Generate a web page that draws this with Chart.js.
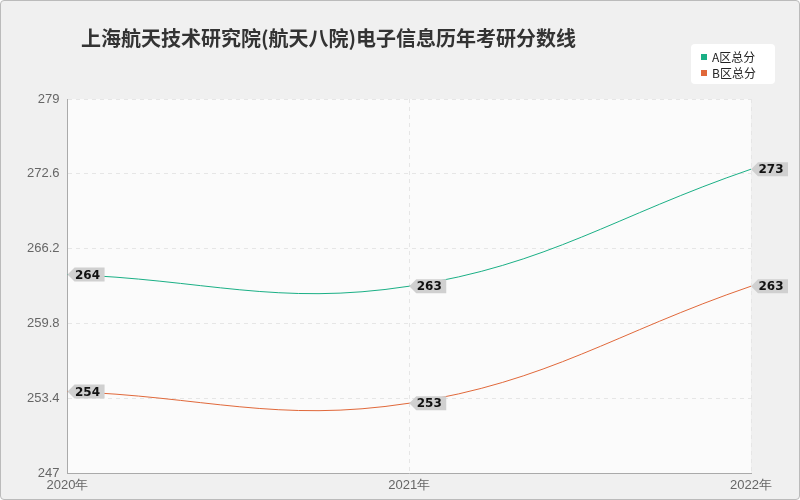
<!DOCTYPE html>
<html><head><meta charset="utf-8">
<script src="https://cdn.jsdelivr.net/npm/chart.js@4/dist/chart.umd.min.js"></script>
<style>
body{margin:0;background:#fff;}
#wrap{position:absolute;left:0;top:0;width:798px;height:498px;border:1px solid #bbb;background:#f0f0f0;border-radius:4px;}
</style></head><body>
<div id="wrap"><canvas id="c" width="798" height="498"></canvas></div>
<script>
const years = ["2020年", "2021年", "2022年"];
const seriesA = [264, 263, 273];
const seriesB = [254, 253, 263];
const yTicks = [247, 253.4, 259.8, 266.2, 272.6, 279];
const titleText = "上海航天技术研究院(航天八院)电子信息历年考研分数线";

const tagPlugin = {
  id: "tags",
  afterDatasetsDraw(chart) {
    const ctx = chart.ctx;
    chart.data.datasets.forEach((ds, i) => {
      chart.getDatasetMeta(i).data.forEach((pt, j) => {
        const x = pt.x, y = pt.y, w = 30, h = 14;
        ctx.save();
        ctx.fillStyle = "#d0d0d0";
        ctx.beginPath();
        ctx.moveTo(x, y);
        ctx.lineTo(x + 7, y - h / 2);
        ctx.lineTo(x + 7 + w, y - h / 2);
        ctx.lineTo(x + 7 + w, y + h / 2);
        ctx.lineTo(x + 7, y + h / 2);
        ctx.closePath();
        ctx.fill();
        ctx.fillStyle = "#111";
        ctx.font = "bold 12px 'DejaVu Sans'";
        ctx.textAlign = "center";
        ctx.textBaseline = "middle";
        ctx.fillText(String(ds.data[j]), x + 7 + w / 2 - 2, y + 1);
        ctx.restore();
      });
    });
  }
};
const decoPlugin = {
  id: "deco",
  beforeDraw(chart) {
    const a = chart.chartArea, ctx = chart.ctx;
    ctx.save();
    ctx.fillStyle = "#fbfbfb";
    ctx.fillRect(a.left, a.top, a.right - a.left, a.bottom - a.top);
    ctx.fillStyle = "#333";
    ctx.font = "bold 20px 'Noto Sans CJK SC'";
    ctx.textBaseline = "middle";
    ctx.fillText(titleText, 80, 37);
    // legend
    ctx.fillStyle = "#fff";
    ctx.beginPath();
    ctx.roundRect(690, 43, 84, 40, 4);
    ctx.fill();
    ctx.font = "12px 'Noto Sans CJK SC'";
    chart.data.datasets.forEach((ds, i) => {
      const y = 56 + i * 16;
      ctx.fillStyle = ds.borderColor;
      ctx.fillRect(700, y - 3, 6, 6);
      ctx.fillStyle = "#222";
      ctx.fillText(ds.label, 711, y);
    });
    ctx.restore();
  }
};

new Chart(document.getElementById("c"), {
  type: "line",
  data: {
    labels: years,
    datasets: [
      { label: "A区总分", data: seriesA, borderColor: "#1aaf85", backgroundColor: "#1aaf85", borderWidth: 1, pointRadius: 0, tension: 0.4 },
      { label: "B区总分", data: seriesB, borderColor: "#e0683a", backgroundColor: "#e0683a", borderWidth: 1, pointRadius: 0, tension: 0.4 }
    ]
  },
  options: {
    responsive: false,
    animation: false,
    layout: { padding: { left: 18, right: 48, top: 98, bottom: 2 } },
    plugins: { title: { display: false }, legend: { display: false }, tooltip: { enabled: false } },
    scales: {
      x: {
        grid: { color: "#e6e6e6", drawTicks: false },
        border: { color: "#aaa", dash: [4, 4] },
        ticks: { color: "#666", font: { size: 13 }, padding: 4 }
      },
      y: {
        min: 247, max: 279,
        afterBuildTicks: ax => { ax.ticks = yTicks.map(v => ({ value: v })); },
        grid: { color: "#e6e6e6", drawTicks: false },
        border: { color: "#aaa", dash: [4, 4] },
        ticks: { color: "#666", font: { size: 13 }, padding: 8 }
      }
    }
  },
  plugins: [decoPlugin, tagPlugin]
});
</script>
</body></html>
